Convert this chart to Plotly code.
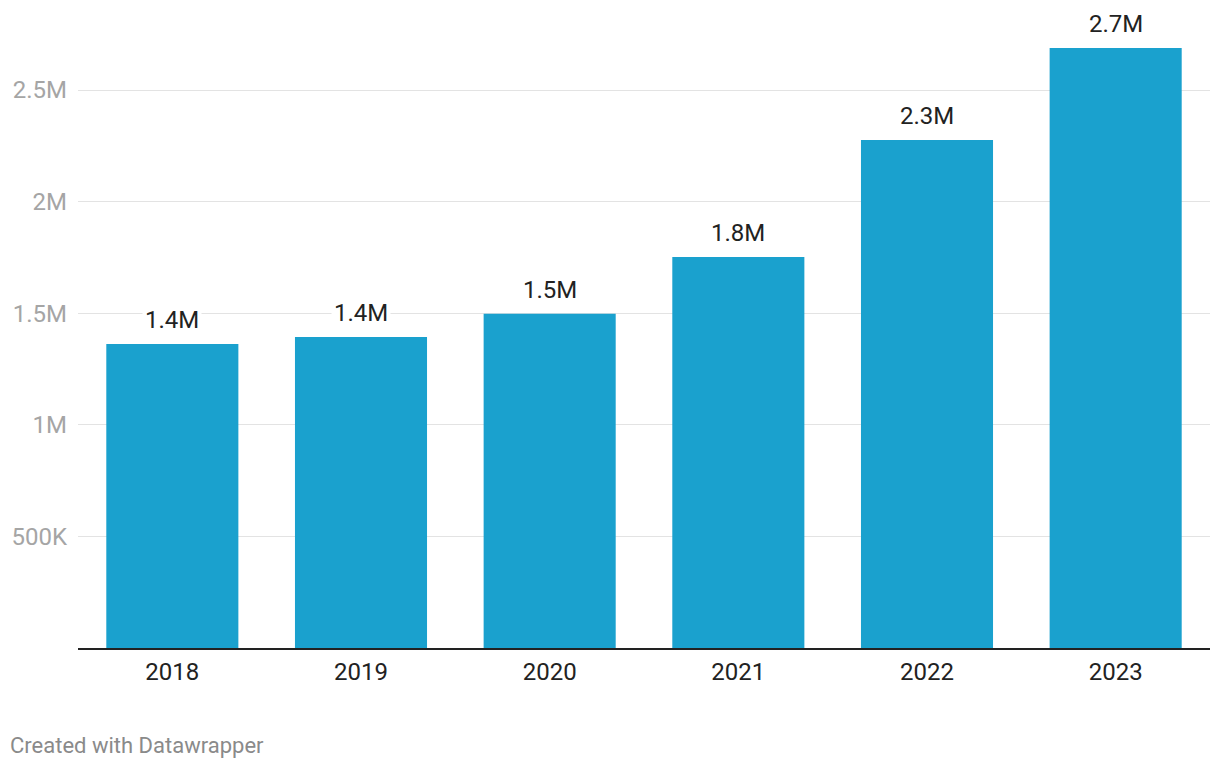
import plotly.graph_objects as go

years = ["2018", "2019", "2020", "2021", "2022", "2023"]
values = [1362000, 1393000, 1497000, 1752000, 2276000, 2688000]
labels = ["1.4M", "1.4M", "1.5M", "1.8M", "2.3M", "2.7M"]
ytick_vals = [500000, 1000000, 1500000, 2000000, 2500000]
ytick_text = ["500K", "1M", "1.5M", "2M", "2.5M"]

W, H = 1220, 768
mt, mb, ml, mr = 20, 120, 78, 10
plot_bottom = H - mb
y_top = 2500000 * (plot_bottom - mt) / (plot_bottom - 90)

fig = go.Figure(go.Bar(
    x=years, y=values, marker=dict(color="#1aa1ce", line=dict(width=0)),
    hoverinfo="skip",
))

for i, (v, lab) in enumerate(zip(values, labels)):
    fig.add_annotation(x=i, y=v, text=lab, showarrow=False, yanchor="middle",
                       yshift=24, bgcolor="white", borderpad=2,
                       font=dict(family="Roboto", size=24, color="#222222"))

fig.add_annotation(x=0, y=0, xref="paper", yref="paper", xanchor="left", yanchor="middle",
                   xshift=-ml + 8, yshift=-(745 - plot_bottom), text="Created with Datawrapper",
                   showarrow=False, font=dict(family="Roboto", size=22, color="#8a8a8a"))

fig.update_layout(
    width=W, height=H, margin=dict(l=ml, r=mr, t=mt, b=mb, autoexpand=False),
    paper_bgcolor="white", plot_bgcolor="white", bargap=0.3, showlegend=False,
    font=dict(family="Roboto"),
)
fig.update_xaxes(type="category", range=[-0.5, len(years) - 0.5], showline=True,
                 linecolor="#222222", linewidth=2, showgrid=False,
                 ticks="", tickfont=dict(size=24, color="#222222"), ticklabelstandoff=1)
fig.update_yaxes(range=[0, y_top], tickvals=ytick_vals, ticktext=ytick_text,
                 showgrid=True, gridcolor="#e3e3e3", gridwidth=1, zeroline=False,
                 ticks="", tickfont=dict(size=24, color="#a5a5a5"), ticklabelstandoff=10)

fig.write_html("out.html", config={"displayModeBar": False},
               post_script="document.body.style.margin='0';")
